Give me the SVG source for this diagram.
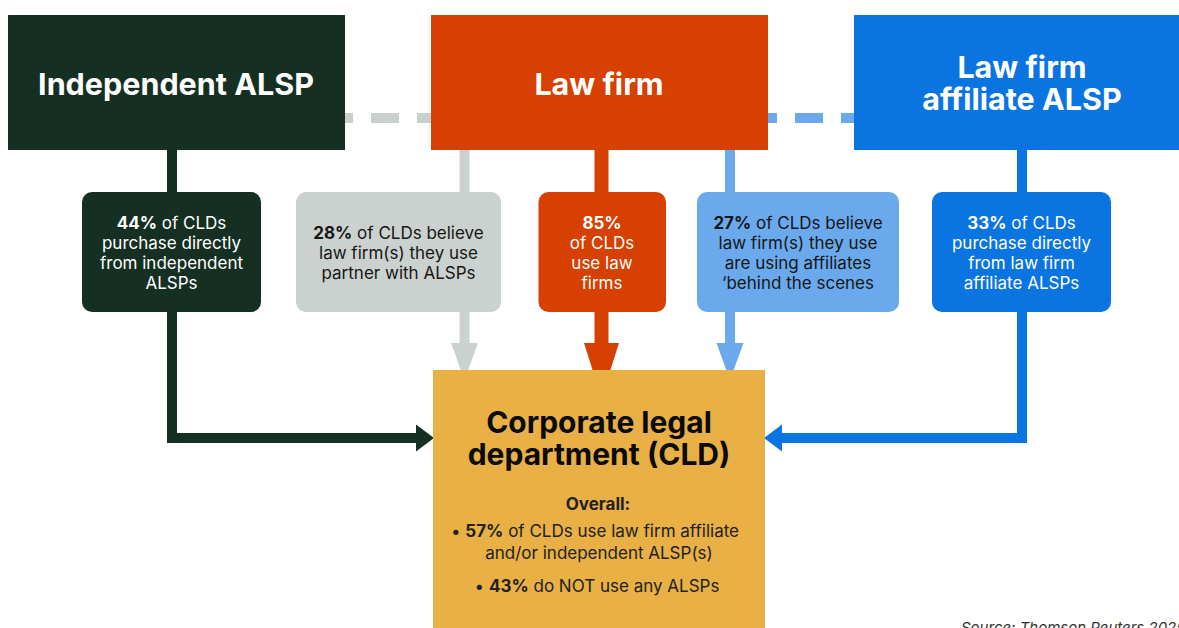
<svg xmlns="http://www.w3.org/2000/svg" width="1179" height="628" viewBox="0 0 1179 628">
  <style>
    .hdr { font-family: Inter, "Liberation Sans", sans-serif; font-weight: 700; font-size: 30.5px; fill: #ffffff; text-anchor: middle; }
    .stat { font-family: Inter, "Liberation Sans", sans-serif; font-size: 17px; text-anchor: middle; }
    .light { fill: #ffffff; }
    .dark { fill: #161616; }
    .cldT { font-family: Inter, "Liberation Sans", sans-serif; font-weight: 700; font-size: 30px; fill: #0a0a0a; text-anchor: middle; }
    .cldS { font-family: Inter, "Liberation Sans", sans-serif; font-size: 17px; fill: #222222; text-anchor: middle; }
    .b { font-weight: 700; }
    .src { font-family: Inter, "Liberation Sans", sans-serif; font-style: italic; font-size: 15px; fill: #333333; }
  </style>

  <rect width="1179" height="628" fill="#ffffff"/>

  <!-- connectors -->
  <g id="connectors">
    <!-- dashed partnerships between top boxes -->
    <line x1="325" y1="118" x2="431" y2="118" stroke="#C9CFCC" stroke-width="10" stroke-dasharray="28 18"/>
    <line x1="749" y1="118" x2="854" y2="118" stroke="#6AAAEC" stroke-width="10" stroke-dasharray="28 18"/>

    <!-- independent ALSP → CLD (elbow) -->
    <path d="M172 150 V438 H418" fill="none" stroke="#153023" stroke-width="10"/>
    <polygon points="416,424.5 434,438 416,451.5" fill="#153023"/>

    <!-- law firm partnering with ALSPs -->
    <line x1="464.5" y1="150" x2="464.5" y2="345" stroke="#CBD1CE" stroke-width="10"/>
    <polygon points="451,343 478,343 464.5,380" fill="#CBD1CE"/>

    <!-- law firm → CLD -->
    <line x1="601.5" y1="150" x2="601.5" y2="345" stroke="#D64000" stroke-width="14"/>
    <polygon points="584,343 619,343 601.5,398" fill="#D64000"/>

    <!-- affiliates behind the scenes -->
    <line x1="730" y1="150" x2="730" y2="345" stroke="#6AAAEC" stroke-width="10"/>
    <polygon points="716.5,343 743.5,343 730,380" fill="#6AAAEC"/>

    <!-- law firm affiliate ALSP → CLD (elbow) -->
    <path d="M1022 150 V438 H780" fill="none" stroke="#0A74E1" stroke-width="10"/>
    <polygon points="782,424.5 764,438 782,451.5" fill="#0A74E1"/>
  </g>

  <!-- top tier -->
  <g id="independent-alsp">
    <rect x="8" y="15" width="337" height="135" fill="#153023"/>
    <text class="hdr" x="176" y="95">Independent ALSP</text>
  </g>

  <g id="law-firm">
    <rect x="431" y="15" width="337" height="135" fill="#D64000"/>
    <text class="hdr" x="599" y="95">Law firm</text>
  </g>

  <g id="law-firm-affiliate-alsp">
    <rect x="854" y="15" width="330" height="135" fill="#0A74E1"/>
    <text class="hdr" x="1022" y="78">Law firm</text>
    <text class="hdr" x="1022" y="110">affiliate ALSP</text>
  </g>

  <!-- statistic cards -->
  <g id="stat-independent">
    <rect x="82" y="192" width="179" height="120" rx="10" fill="#153023"/>
    <text class="stat light" x="171.5" y="229"><tspan class="b">44%</tspan> of CLDs</text>
    <text class="stat light" x="171.5" y="249">purchase directly</text>
    <text class="stat light" x="171.5" y="269">from independent</text>
    <text class="stat light" x="171.5" y="289">ALSPs</text>
  </g>

  <g id="stat-partner">
    <rect x="296" y="192" width="205" height="120" rx="10" fill="#CBD1CE"/>
    <text class="stat dark" x="398.5" y="239"><tspan class="b">28%</tspan> of CLDs believe</text>
    <text class="stat dark" x="398.5" y="259">law firm(s) they use</text>
    <text class="stat dark" x="398.5" y="279">partner with ALSPs</text>
  </g>

  <g id="stat-law-firm">
    <rect x="538.5" y="192" width="127.5" height="120" rx="10" fill="#D64000"/>
    <text class="stat light b" x="602" y="229">85%</text>
    <text class="stat light" x="602" y="249">of CLDs</text>
    <text class="stat light" x="602" y="269">use law</text>
    <text class="stat light" x="602" y="289">firms</text>
  </g>

  <g id="stat-behind-scenes">
    <rect x="697" y="192" width="202" height="120" rx="10" fill="#6AAAEC"/>
    <text class="stat dark" x="798" y="229"><tspan class="b">27%</tspan> of CLDs believe</text>
    <text class="stat dark" x="798" y="249">law firm(s) they use</text>
    <text class="stat dark" x="798" y="269">are using affiliates</text>
    <text class="stat dark" x="798" y="289">‘behind the scenes</text>
  </g>

  <g id="stat-affiliate">
    <rect x="932" y="192" width="179" height="120" rx="10" fill="#0A74E1"/>
    <text class="stat light" x="1021.5" y="229"><tspan class="b">33%</tspan> of CLDs</text>
    <text class="stat light" x="1021.5" y="249">purchase directly</text>
    <text class="stat light" x="1021.5" y="269">from law firm</text>
    <text class="stat light" x="1021.5" y="289">affiliate ALSPs</text>
  </g>

  <!-- corporate legal department -->
  <g id="cld">
    <rect x="433" y="370" width="332" height="270" fill="#E8B045"/>
    <text class="cldT" x="599" y="433">Corporate legal</text>
    <text class="cldT" x="599" y="465">department (CLD)</text>
    <text class="cldS b" x="598" y="510">Overall:</text>
    <text class="cldS" x="595" y="537">• <tspan class="b">57%</tspan> of CLDs use law firm affiliate</text>
    <text class="cldS" x="599" y="559">and/or independent ALSP(s)</text>
    <text class="cldS" x="597" y="592">• <tspan class="b">43%</tspan> do NOT use any ALSPs</text>
  </g>

  <text class="src" x="961" y="633">Source: Thomson Reuters 2025</text>
</svg>
